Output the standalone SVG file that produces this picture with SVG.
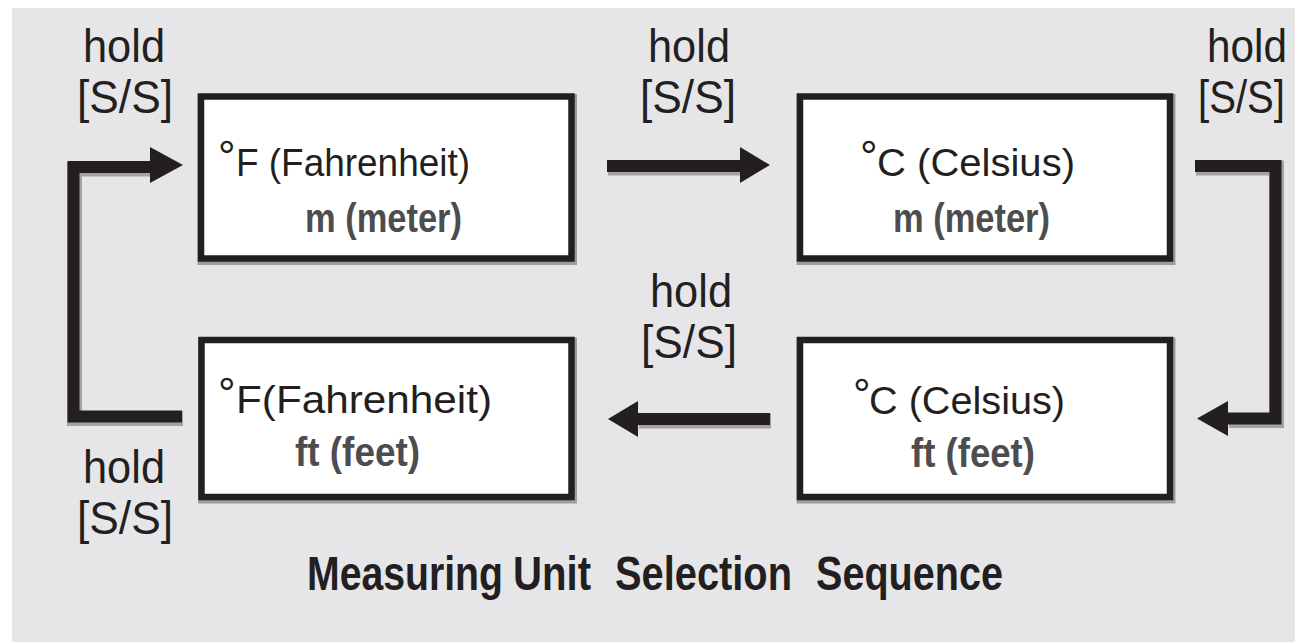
<svg xmlns="http://www.w3.org/2000/svg" width="1295" height="642" viewBox="0 0 1295 642">
  <style>
    .panel { fill: #e6e6e8; }
    .box { fill: #ffffff; stroke: #231f20; stroke-width: 6.5; }
    .box-halo { fill: none; stroke: #9d9d9f; stroke-width: 9; }
    .wire { fill: none; stroke: #231f20; stroke-width: 12; stroke-linejoin: miter; stroke-linecap: butt; }
    .wire-halo { fill: none; stroke: #a3a3a5; stroke-width: 15; stroke-linejoin: miter; stroke-linecap: butt; }
    .head { fill: #231f20; }
    .hold { font-family: "Liberation Sans", Arial, sans-serif; font-size: 47px; fill: #231f20; }
    .unit-t { font-family: "Liberation Sans", Arial, sans-serif; font-size: 38px; fill: #231f20; }
    .unit-l { font-family: "Liberation Sans", Arial, sans-serif; font-size: 41px; font-weight: bold; fill: #4d4d4f; }
    .deg { font-family: "Liberation Sans", Arial, sans-serif; font-size: 44px; fill: #231f20; }
    .title { font-family: "Liberation Sans", Arial, sans-serif; font-size: 48px; font-weight: bold; fill: #231f20; }
  </style>

  <rect x="0" y="0" width="1295" height="642" fill="#ffffff"/>
  <rect class="panel" x="12" y="8" width="1283" height="634"/>

  <!-- connectors -->
  <g id="connectors">
    <!-- soft grey under-print -->
    <g transform="translate(1,2)">
      <path class="wire-halo" d="M182,416.5 H73.5 V167 H150"/>
      <path class="wire-halo" d="M607,166 H742"/>
      <path class="wire-halo" d="M1195,166 H1275.5 V418.5 H1228"/>
      <path class="wire-halo" d="M770,419 H638"/>
    </g>
    <!-- left loop: ft/°F back to m/°F -->
    <path class="wire" d="M182,416.5 H73.5 V167 H152"/>
    <polygon class="head" points="150,147 183,165 150,183"/>
    <!-- top: °F,m to °C,m -->
    <path class="wire" d="M607,166 H742"/>
    <polygon class="head" points="740,147 770,165 740,183"/>
    <!-- right loop: °C,m down to °C,ft -->
    <path class="wire" d="M1195,166 H1275.5 V418.5 H1226"/>
    <polygon class="head" points="1228,401 1197,418.5 1228,436"/>
    <!-- bottom: °C,ft to °F,ft -->
    <path class="wire" d="M770,419 H636"/>
    <polygon class="head" points="638,401 608,419 638,437"/>
  </g>

  <!-- transition labels -->
  <g id="labels">
    <text class="hold" x="83" y="62" textLength="82" lengthAdjust="spacingAndGlyphs">hold</text>
    <text class="hold" x="77" y="113" textLength="96" lengthAdjust="spacingAndGlyphs">[S/S]</text>
    <text class="hold" x="648" y="62" textLength="82" lengthAdjust="spacingAndGlyphs">hold</text>
    <text class="hold" x="640" y="113" textLength="96" lengthAdjust="spacingAndGlyphs">[S/S]</text>
    <text class="hold" x="1207" y="62" textLength="80" lengthAdjust="spacingAndGlyphs">hold</text>
    <text class="hold" x="1198" y="113" textLength="87" lengthAdjust="spacingAndGlyphs">[S/S]</text>
    <text class="hold" x="650" y="307" textLength="82" lengthAdjust="spacingAndGlyphs">hold</text>
    <text class="hold" x="641" y="358" textLength="96" lengthAdjust="spacingAndGlyphs">[S/S]</text>
    <text class="hold" x="83" y="483" textLength="82" lengthAdjust="spacingAndGlyphs">hold</text>
    <text class="hold" x="77" y="534" textLength="96" lengthAdjust="spacingAndGlyphs">[S/S]</text>
  </g>

  <!-- state: Fahrenheit / meter -->
  <g id="node-f-m">
    <rect class="box-halo" x="201" y="96.5" width="370.5" height="162" transform="translate(1,2)"/>
    <rect class="box" x="201" y="96.5" width="370.5" height="162"/>
    <text class="deg" x="218" y="172">°</text>
    <text class="unit-t" x="236" y="176" textLength="234" lengthAdjust="spacingAndGlyphs">F (Fahrenheit)</text>
    <text class="unit-l" x="305" y="232" textLength="157" lengthAdjust="spacingAndGlyphs">m (meter)</text>
  </g>

  <!-- state: Celsius / meter -->
  <g id="node-c-m">
    <rect class="box-halo" x="800" y="96.5" width="370" height="162" transform="translate(1,2)"/>
    <rect class="box" x="800" y="96.5" width="370" height="162"/>
    <text class="deg" x="860" y="172">°</text>
    <text class="unit-t" x="877" y="176" textLength="198" lengthAdjust="spacingAndGlyphs">C (Celsius)</text>
    <text class="unit-l" x="893" y="232" textLength="157" lengthAdjust="spacingAndGlyphs">m (meter)</text>
  </g>

  <!-- state: Fahrenheit / feet -->
  <g id="node-f-ft">
    <rect class="box-halo" x="201.5" y="340" width="370" height="157" transform="translate(1,2)"/>
    <rect class="box" x="201.5" y="340" width="370" height="157"/>
    <text class="deg" x="218" y="409">°</text>
    <text class="unit-t" x="236" y="413" textLength="256" lengthAdjust="spacingAndGlyphs">F(Fahrenheit)</text>
    <text class="unit-l" x="295" y="466" textLength="125" lengthAdjust="spacingAndGlyphs">ft (feet)</text>
  </g>

  <!-- state: Celsius / feet -->
  <g id="node-c-ft">
    <rect class="box-halo" x="800" y="340" width="370" height="157" transform="translate(1,2)"/>
    <rect class="box" x="800" y="340" width="370" height="157"/>
    <text class="deg" x="853" y="410">°</text>
    <text class="unit-t" x="869" y="414" textLength="196" lengthAdjust="spacingAndGlyphs">C (Celsius)</text>
    <text class="unit-l" x="911" y="467" textLength="124" lengthAdjust="spacingAndGlyphs">ft (feet)</text>
  </g>

  <!-- caption, words placed individually for the uneven gaps -->
  <text class="title" y="590"><tspan x="307" textLength="196" lengthAdjust="spacingAndGlyphs">Measuring</tspan><tspan x="513" textLength="78" lengthAdjust="spacingAndGlyphs">Unit</tspan><tspan x="615" textLength="177" lengthAdjust="spacingAndGlyphs">Selection</tspan><tspan x="816" textLength="187" lengthAdjust="spacingAndGlyphs">Sequence</tspan></text>
</svg>
